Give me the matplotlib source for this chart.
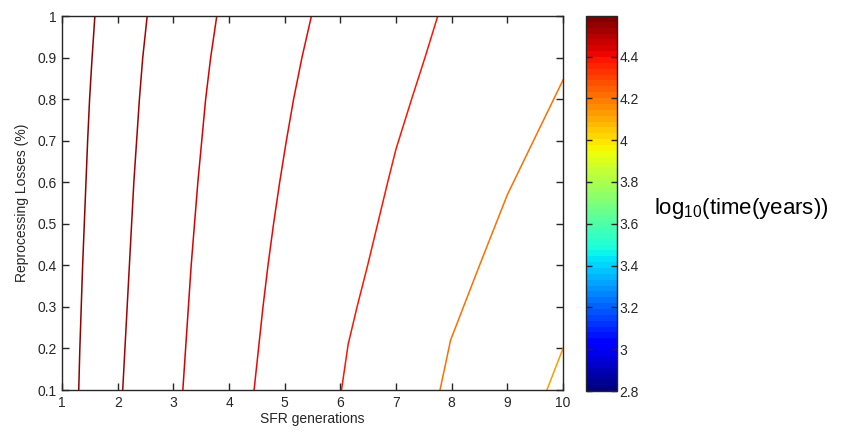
import matplotlib
matplotlib.use('Agg')
import matplotlib.pyplot as plt
import matplotlib.colors as mcolors
import matplotlib.cm as cm
import numpy as np

plt.rcParams['font.family'] = ['Liberation Sans', 'DejaVu Sans']

# contour levels (log10 years) and traced contour paths: (SFR generations, losses %)
levels = [4.55, 4.51, 4.45, 4.40, 4.37, 4.22, 4.12]
loss_y = [0.1, 0.2, 0.3, 0.4, 0.5, 0.6, 0.7, 0.8, 0.9, 1.0]
line1_x = [1.30, 1.32, 1.345, 1.37, 1.40, 1.43, 1.46, 1.495, 1.54, 1.59]
line2_x = [2.09, 2.13, 2.17, 2.21, 2.25, 2.29, 2.34, 2.39, 2.45, 2.53]
line3_x = [3.17, 3.22, 3.27, 3.32, 3.38, 3.44, 3.51, 3.58, 3.67, 3.78]
line4_x = [4.45, 4.53, 4.61, 4.70, 4.80, 4.91, 5.03, 5.16, 5.31, 5.48]
line5_x = [6.02, 6.14, 6.30, 6.49, 6.67, 6.85, 7.00, 7.28, 7.52, 7.75]
line5_y = [0.1, 0.21, 0.3, 0.4, 0.5, 0.6, 0.68, 0.8, 0.9, 1.0]
line6_x = [7.79, 7.98, 8.50, 9.00, 9.47, 10.0]
line6_y = [0.1, 0.22, 0.4, 0.57, 0.70, 0.846]
line7_x = [9.71, 10.0]
line7_y = [0.1, 0.2]

paths = [(line1_x, loss_y), (line2_x, loss_y), (line3_x, loss_y), (line4_x, loss_y),
         (line5_x, line5_y), (line6_x, line6_y), (line7_x, line7_y)]

cmin, cmax = 2.8, 4.594
cmap = plt.get_cmap('jet', 64)
norm = mcolors.Normalize(vmin=cmin, vmax=cmax)

fig = plt.figure(figsize=(8.44, 4.36), dpi=100)
ax = fig.add_axes([0.0735, 0.1055, 0.5936, 0.8578])

for lev, (xs, ys) in zip(levels, paths):
    ax.plot(xs, ys, color=cmap(norm(lev)), lw=1.1)

ax.set_xlim(1, 10)
ax.set_ylim(0.1, 1)
ax.set_xticks(range(1, 11))
ax.set_yticks(np.round(np.arange(0.1, 1.01, 0.1), 1))
ax.set_yticklabels(['0.1', '0.2', '0.3', '0.4', '0.5', '0.6', '0.7', '0.8', '0.9', '1'])
ax.tick_params(direction='in', top=True, right=True, length=5, width=1,
               labelsize=10, colors='#262626', pad=4)
for s in ax.spines.values():
    s.set_color('#262626')
    s.set_linewidth(1)
ax.set_xlabel('SFR generations', fontsize=10, color='#262626', labelpad=2)
ax.set_ylabel('Reprocessing Losses (%)', fontsize=10, color='#262626', labelpad=6)

cax = fig.add_axes([0.6943, 0.1032, 0.0367, 0.860])
cb = fig.colorbar(cm.ScalarMappable(norm=norm, cmap=cmap), cax=cax)
cb.set_ticks([2.8, 3.0, 3.2, 3.4, 3.6, 3.8, 4.0, 4.2, 4.4])
cb.set_ticklabels(['2.8', '3', '3.2', '3.4', '3.6', '3.8', '4', '4.2', '4.4'])
cax.tick_params(direction='in', left=True, right=True, length=4, width=1,
                labelsize=10, colors='#262626', pad=2)
cb.outline.set_edgecolor('#262626')
cb.outline.set_linewidth(1)

fig.text(0.775, 0.522, r'log$_{\mathregular{10}}$(time(years))', fontsize=16,
         va='center', ha='left', color='black')

fig.savefig('out.png', dpi=100)
